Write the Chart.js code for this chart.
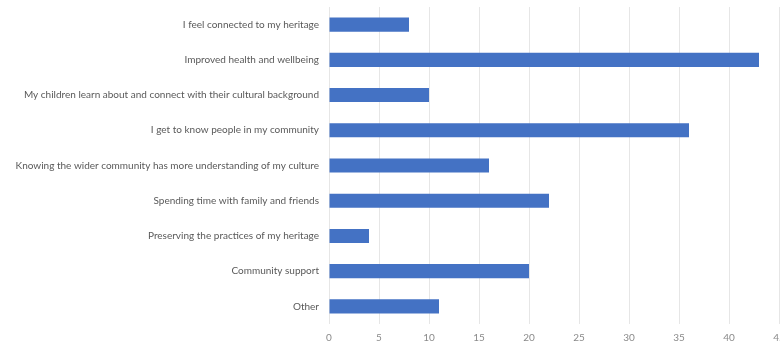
<!DOCTYPE html>
<html>
<head>
<meta charset="utf-8">
<script src="https://cdn.jsdelivr.net/npm/chart.js@4/dist/chart.umd.min.js"></script>
<style>
  html, body { margin: 0; padding: 0; background: #ffffff; overflow: hidden; }
  #wrap { position: relative; width: 780px; height: 344px; }
</style>
</head>
<body>
<div id="wrap"><canvas id="c"></canvas></div>
<script>
// Survey responses: reasons for taking part
const categories = [
  "I feel connected to my heritage",
  "Improved health and wellbeing",
  "My children learn about and connect with their cultural background",
  "I get to know people in my community",
  "Knowing the wider community has more understanding of my culture",
  "Spending time with family and friends",
  "Preserving the practices of my heritage",
  "Community support",
  "Other"
];
const responses = [8, 43, 10, 36, 16, 22, 4, 20, 11];
const xTicks = [0, 5, 10, 15, 20, 25, 30, 35, 40, 45];

const labelFont = { family: "Lato, 'Open Sans', sans-serif", size: 10 };

new Chart(document.getElementById("c"), {
  type: "bar",
  data: {
    labels: categories,
    datasets: [{
      data: responses,
      backgroundColor: "#4472C4",
      borderWidth: 0,
      barPercentage: 0.4,
      categoryPercentage: 1.0
    }]
  },
  options: {
    indexAxis: "y",
    responsive: true,
    maintainAspectRatio: false,
    animation: false,
    layout: { padding: { top: 7, right: 1, left: 0, bottom: 0 } },
    plugins: { legend: { display: false }, tooltip: { enabled: false } },
    scales: {
      x: {
        min: xTicks[0],
        max: xTicks[xTicks.length - 1],
        afterBuildTicks: (scale) => { scale.ticks = xTicks.map(v => ({ value: v })); },
        afterFit: (scale) => { scale.paddingRight = 0; scale.paddingLeft = 0; scale.height = 20; },
        grid: { color: "#e6e6e6", lineWidth: 1, drawTicks: false },
        border: { display: false },
        ticks: { color: "#8a8a8a", font: labelFont, padding: 8, maxRotation: 0 }
      },
      y: {
        afterFit: (scale) => { scale.width = 329; scale.paddingTop = 0; scale.paddingBottom = 0; },
        grid: { display: false, drawTicks: false },
        border: { display: false },
        ticks: { color: "#595959", font: labelFont, padding: 10, autoSkip: false }
      }
    }
  }
});
</script>
</body>
</html>
